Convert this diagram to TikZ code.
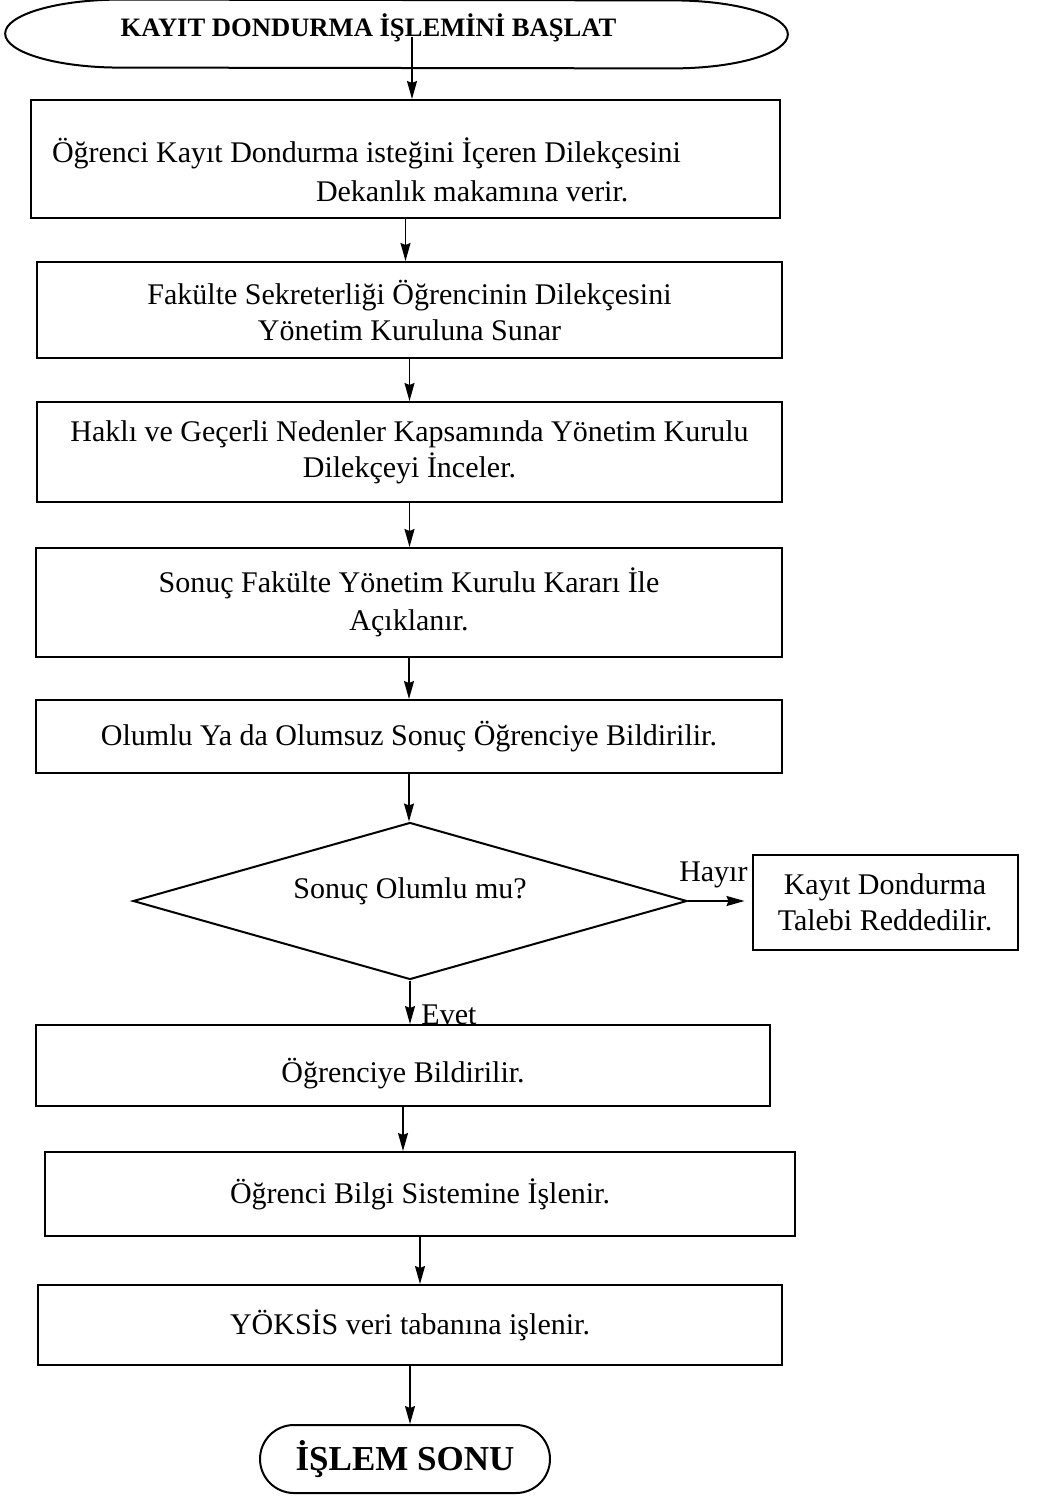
\documentclass[tikz,border=0pt]{standalone}
\usepackage{fontspec}
\setmainfont{Liberation Serif}
\usetikzlibrary{positioning,shapes,arrows.meta,calc}

\begin{document}
\begin{tikzpicture}[x=0.5pt,y=-0.5pt,
                    font=\fontsize{15}{18}\selectfont,
                    box node/.style={rectangle,draw,line width=1pt,align=center,inner sep=0pt},
                    start node/.style={rectangle,inner sep=0pt,font=\fontsize{13.3}{16}\selectfont\bfseries},
                    stop node/.style={rounded rectangle,draw,line width=1pt,inner sep=0pt,font=\fontsize{17.5}{20}\selectfont\bfseries},
                    decision node/.style={diamond,draw,line width=1pt,inner sep=0pt,shape aspect=4},
                    arrow/.style={line width=0.8pt,-{Stealth[length=9pt,width=5pt,inset=1pt]}}
                   ]
  \useasboundingbox (0,0) rectangle (1040,1497);

  \node[start node,minimum width=268pt,minimum height=34pt,text depth=9pt] (start) at (396.5,34) {KAYIT DONDURMA İŞLEMİNİ BAŞLAT\hspace*{28pt}};
  % outline of the start terminal
  \draw[line width=1pt] (start.north west) arc[start angle=90,end angle=270,x radius=57.5pt,y radius=17pt]
                        -- (start.south east) arc[start angle=-90,end angle=90,x radius=57.5pt,y radius=17pt] -- cycle;

  \node[box node,align=flush left,text width=353.5pt,inner xsep=10.5pt,minimum height=59pt,text depth=9pt] (b1) at (405.5,159)
       {Öğrenci Kayıt Dondurma isteğini İçeren Dilekçesini\\[1.5pt]\hspace*{132pt}Dekanlık makamına verir.};
  \node[box node,minimum width=372.5pt,minimum height=48pt] (b2) at (409.5,310)
       {Fakülte Sekreterliği Öğrencinin Dilekçesini\\Yönetim Kuruluna Sunar};
  \node[box node,minimum width=372.5pt,minimum height=50pt] (b3) at (409.5,452)
       {Haklı ve Geçerli Nedenler Kapsamında Yönetim Kurulu\\Dilekçeyi İnceler.};
  \node[box node,minimum width=373pt,minimum height=54.5pt] (b4) at (409,602.5)
       {Sonuç Fakülte Yönetim Kurulu Kararı İle\\[1pt]Açıklanır.};
  \node[box node,minimum width=373pt,minimum height=36.5pt] (b5) at (409,736.5)
       {Olumlu Ya da Olumsuz Sonuç Öğrenciye Bildirilir.};
  \node[decision node,minimum width=277pt,minimum height=78.5pt,text depth=13pt] (dec) at (410,901) {Sonuç Olumlu mu?};
  \node[box node,minimum width=132.5pt,minimum height=47.5pt] (rej) at (885,902)
       {Kayıt Dondurma\\Talebi Reddedilir.};
  \node[box node,minimum width=367pt,minimum height=40.5pt,text height=20pt] (b6) at (403,1065.5) {Öğrenciye Bildirilir.};
  \node[box node,minimum width=375pt,minimum height=42pt] (b7) at (420,1194) {Öğrenci Bilgi Sistemine İşlenir.};
  \node[box node,minimum width=372pt,minimum height=40pt] (b8) at (410,1325) {YÖKSİS veri tabanına işlenir.};
  \node[stop node,minimum width=145pt,minimum height=34pt] (stop) at (405,1459) {İŞLEM SONU};

  \coordinate (s0) at ([xshift=7.75pt,yshift=-1.5pt]start.center);

  \path%
      (s0) edge [arrow] (s0 |- b1.north)
      (b1.south) edge [arrow] (b1.south |- b2.north)
      (b2.south) edge [arrow] (b2.south |- b3.north)
      (b3.south) edge [arrow] (b3.south |- b4.north)
      (b4.south) edge [arrow] (b4.south |- b5.north)
      (b5.south) edge [arrow] (b5.south |- dec.north)
      (dec.east) edge [arrow,shorten >=3.5pt] node[above,pos=0.4,yshift=3pt] {Hayır} (dec.east -| rej.west)
      (dec.south) edge [arrow] node[right,pos=0.78,xshift=2pt] {Evet} (dec.south |- b6.north)
      (b6.south) edge [arrow] (b6.south |- b7.north)
      (b7.south) edge [arrow] (b7.south |- b8.north)
      (b8.south) edge [arrow] (b8.south |- stop.north);
\end{tikzpicture}
\end{document}
